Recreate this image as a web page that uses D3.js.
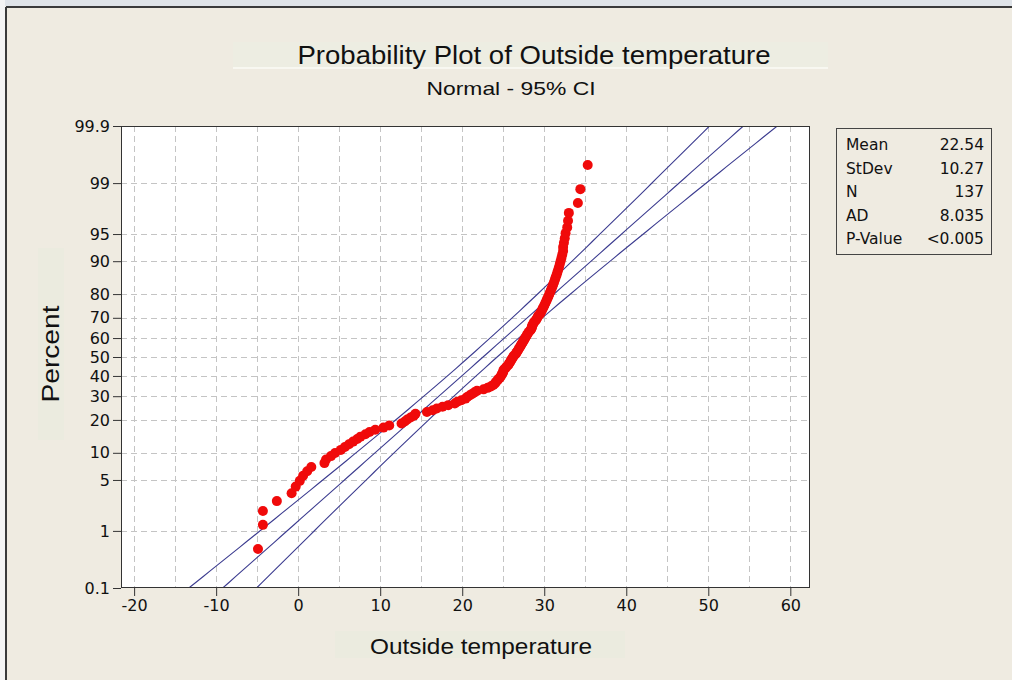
<!DOCTYPE html>
<html>
<head>
<meta charset="utf-8">
<script src="https://cdn.jsdelivr.net/npm/d3@7"></script>
<style>
html,body{margin:0;padding:0;background:#efebe1;}
svg{display:block;}
</style>
</head>
<body>
<svg id="chart" width="1012" height="680"></svg>
<script>
// ---------- data ----------
const temperatures = [
  -4.9, -4.3, -4.3, -2.6, -0.8, -0.3, 0.2, 0.6, 1.1, 1.6,
  3.2, 3.4, 4.0, 4.5, 5.2, 5.7, 6.2, 6.7, 7.2, 7.6,
  8.2, 8.7, 9.4, 10.4, 11.1, 12.6, 13.0, 13.3, 13.7, 14.1,
  14.3, 15.7, 16.4, 16.9, 17.6, 18.3, 19.1, 19.4, 19.9, 20.4,
  20.6, 20.9, 21.2, 21.5, 21.8, 22.6, 23.1, 23.5, 23.8, 24.0,
  24.1, 24.3, 24.4, 24.6, 24.7, 24.8, 24.9, 25.0, 25.0, 25.1,
  25.3, 25.4, 25.6, 25.7, 25.8, 25.9, 26.0, 26.1, 26.2, 26.3,
  26.5, 26.6, 26.7, 26.8, 26.9, 27.0, 27.1, 27.2, 27.3, 27.4,
  27.5, 27.6, 27.7, 27.8, 27.9, 28.0, 28.1, 28.3, 28.4, 28.5,
  28.5, 28.6, 28.7, 28.8, 29.0, 29.1, 29.2, 29.3, 29.5, 29.6,
  29.7, 29.8, 29.9, 30.0, 30.1, 30.2, 30.3, 30.4, 30.5, 30.6,
  30.7, 30.8, 30.9, 31.0, 31.1, 31.2, 31.3, 31.4, 31.5, 31.6,
  31.7, 31.8, 31.9, 32.0, 32.1, 32.2, 32.3, 32.3, 32.4, 32.5,
  32.6, 32.8, 32.9, 33.0, 34.1, 34.4, 35.3
];
const percentTicks = [0.1, 1, 5, 10, 20, 30, 40, 50, 60, 70, 80, 90, 95, 99, 99.9];
const percentTickLabels = ["0.1", "1", "5", "10", "20", "30", "40", "50", "60", "70", "80", "90", "95", "99", "99.9"];
const tempTicks = [-20, -10, 0, 10, 20, 30, 40, 50, 60];
const tempTickLabels = ["-20", "-10", "0", "10", "20", "30", "40", "50", "60"];
const tempGrid = [-20, -15, -10, -5, 0, 5, 10, 15, 20, 25, 30, 35, 40, 45, 50, 55, 60];
const statLabels = ["Mean", "StDev", "N", "AD", "P-Value"];
const statValues = ["22.54", "10.27", "137", "8.035", "<0.005"];
const fitMean = 22.54, fitSd = 10.27, fitN = 137;

// ---------- helpers ----------
function qnorm(p) {
  const a = [-3.969683028665376e+01, 2.209460984245205e+02, -2.759285104469687e+02, 1.383577518672690e+02, -3.066479806614716e+01, 2.506628277459239e+00];
  const b = [-5.447609879822406e+01, 1.615858368580409e+02, -1.556989798598866e+02, 6.680131188771972e+01, -1.328068155288572e+01];
  const c = [-7.784894002430293e-03, -3.223964580411365e-01, -2.400758277161838e+00, -2.549732539343734e+00, 4.374664141464968e+00, 2.938163982698783e+00];
  const d = [7.784695709041462e-03, 3.224671290700398e-01, 2.445134137142996e+00, 3.754408661907416e+00];
  const pl = 0.02425, ph = 1 - pl;
  let q, r;
  if (p < pl) { q = Math.sqrt(-2 * Math.log(p)); return (((((c[0]*q+c[1])*q+c[2])*q+c[3])*q+c[4])*q+c[5]) / ((((d[0]*q+d[1])*q+d[2])*q+d[3])*q+1); }
  if (p > ph) { q = Math.sqrt(-2 * Math.log(1 - p)); return -(((((c[0]*q+c[1])*q+c[2])*q+c[3])*q+c[4])*q+c[5]) / ((((d[0]*q+d[1])*q+d[2])*q+d[3])*q+1); }
  q = p - 0.5; r = q * q;
  return (((((a[0]*r+a[1])*r+a[2])*r+a[3])*r+a[4])*r+a[5])*q / (((((b[0]*r+b[1])*r+b[2])*r+b[3])*r+b[4])*r+1);
}

// ---------- layout ----------
const svg = d3.select("#chart");
const L = 121, R = 810, T = 126, B = 588;
const zMax = qnorm(0.999);

const x = d3.scaleLinear().domain([-21.6, 62.4]).range([L, R]);
const y = d3.scaleLinear().domain([-zMax, zMax]).range([B, T]);

// window frame
svg.append("rect").attr("x", 0).attr("y", 0).attr("width", 1012).attr("height", 680).attr("fill", "#efebe1");
svg.append("rect").attr("x", 0).attr("y", 0).attr("width", 1012).attr("height", 6).attr("fill", "#dfe3e8");
svg.append("rect").attr("x", 0).attr("y", 0).attr("width", 5).attr("height", 680).attr("fill", "#f4f4f4");
svg.append("line").attr("x1", 6).attr("x2", 1012).attr("y1", 7).attr("y2", 7).attr("stroke", "#3a3a3a").attr("stroke-width", 2);
svg.append("line").attr("x1", 6).attr("x2", 6).attr("y1", 7).attr("y2", 680).attr("stroke", "#3a3a3a").attr("stroke-width", 2);

// title
svg.append("rect").attr("x", 233).attr("y", 42).attr("width", 595).attr("height", 26).attr("fill", "#edede2");
svg.append("line").attr("x1", 233).attr("x2", 828).attr("y1", 68).attr("y2", 68).attr("stroke", "#fbfbf6").attr("stroke-width", 1.5);
svg.append("text").attr("x", 534).attr("y", 64).attr("text-anchor", "middle")
  .attr("font-family", "Liberation Sans, Arial, sans-serif").attr("font-size", 26)
  .attr("textLength", 473).attr("lengthAdjust", "spacingAndGlyphs").attr("fill", "#111")
  .text("Probability Plot of Outside temperature");
svg.append("text").attr("x", 511).attr("y", 95).attr("text-anchor", "middle")
  .attr("font-family", "Liberation Sans, Arial, sans-serif").attr("font-size", 19)
  .attr("textLength", 169).attr("lengthAdjust", "spacingAndGlyphs").attr("fill", "#111")
  .text("Normal - 95% CI");

// plot area
svg.append("rect").attr("x", L).attr("y", T).attr("width", R - L).attr("height", B - T).attr("fill", "#ffffff");

// gridlines
const grid = svg.append("g").attr("stroke", "#c4c4c4").attr("stroke-width", 1).attr("stroke-dasharray", "6,4");
grid.selectAll(".vg").data(tempGrid).join("line")
  .attr("x1", d => Math.round(x(d)) + 0.5).attr("x2", d => Math.round(x(d)) + 0.5)
  .attr("y1", T).attr("y2", B);
grid.selectAll(".hg").data(percentTicks.filter(p => p > 0.1 && p < 99.9)).join("line")
  .attr("x1", L).attr("x2", R)
  .attr("y1", d => Math.round(y(qnorm(d / 100))) + 0.5).attr("y2", d => Math.round(y(qnorm(d / 100))) + 0.5);

// clip
svg.append("clipPath").attr("id", "clip").append("rect").attr("x", L).attr("y", T).attr("width", R - L).attr("height", B - T);

// fitted line and CI
const zs = d3.range(0, 81).map(i => -zMax + i * (2 * zMax / 80));
const zc = 1.959964;
const se = z => fitSd * Math.sqrt(1 / fitN + z * z / (2 * fitN));
const lineGen = f => d3.line().x(z => x(f(z))).y(z => y(z))(zs);
const lines = svg.append("g").attr("clip-path", "url(#clip)").attr("fill", "none").attr("stroke", "#3b3b8f").attr("stroke-width", 1.1);
lines.append("path").attr("d", lineGen(z => fitMean + z * fitSd));
lines.append("path").attr("d", lineGen(z => fitMean + z * fitSd - zc * se(z)));
lines.append("path").attr("d", lineGen(z => fitMean + z * fitSd + zc * se(z)));

// points
const n = temperatures.length;
svg.append("g").attr("clip-path", "url(#clip)").selectAll("circle").data(temperatures).join("circle")
  .attr("cx", d => x(d))
  .attr("cy", (d, i) => y(qnorm((i + 1 - 0.3) / (n + 0.4))))
  .attr("r", 5).attr("fill", "#f00a0a");

// frame
svg.append("rect").attr("x", L + 0.5).attr("y", T + 0.5).attr("width", R - L - 1).attr("height", B - T - 1)
  .attr("fill", "none").attr("stroke", "#333").attr("stroke-width", 1);

// axes
const labelMap = new Map(percentTicks.map((p, i) => [qnorm(p / 100), percentTickLabels[i]]));
const yAxis = d3.axisLeft(y).tickValues(percentTicks.map(p => qnorm(p / 100)))
  .tickFormat(z => labelMap.get(z)).tickSize(8).tickPadding(3);
const gy = svg.append("g").attr("transform", `translate(${L},0)`).call(yAxis);
gy.select(".domain").remove();
gy.selectAll("line").attr("stroke", "#333");
gy.selectAll("text").attr("font-family", "DejaVu Sans, Verdana, sans-serif").attr("font-size", 16).attr("fill", "#111");

const xLabelMap = new Map(tempTicks.map((t, i) => [t, tempTickLabels[i]]));
const xAxis = d3.axisBottom(x).tickValues(tempTicks).tickFormat(t => xLabelMap.get(t)).tickSize(8).tickPadding(4);
const gx = svg.append("g").attr("transform", `translate(0,${B})`).call(xAxis);
gx.select(".domain").remove();
gx.selectAll("line").attr("stroke", "#333");
gx.selectAll("text").attr("font-family", "DejaVu Sans, Verdana, sans-serif").attr("font-size", 16).attr("fill", "#111");

// axis titles
svg.append("rect").attr("x", 38).attr("y", 248).attr("width", 26).attr("height", 192).attr("fill", "#ebebdf");
svg.append("text").attr("transform", "translate(59,354) rotate(-90)").attr("text-anchor", "middle")
  .attr("font-family", "Liberation Sans, Arial, sans-serif").attr("font-size", 23)
  .attr("textLength", 97).attr("lengthAdjust", "spacingAndGlyphs").attr("fill", "#111")
  .text("Percent");
svg.append("rect").attr("x", 335).attr("y", 631).attr("width", 290).attr("height", 27).attr("fill", "#ebebdf");
svg.append("text").attr("x", 481).attr("y", 654).attr("text-anchor", "middle")
  .attr("font-family", "Liberation Sans, Arial, sans-serif").attr("font-size", 22)
  .attr("textLength", 222).attr("lengthAdjust", "spacingAndGlyphs").attr("fill", "#111")
  .text("Outside temperature");

// stats box
svg.append("rect").attr("x", 836.5).attr("y", 128.5).attr("width", 155).attr("height", 126)
  .attr("fill", "none").attr("stroke", "#444").attr("stroke-width", 1);
const sg = svg.append("g").attr("font-family", "DejaVu Sans, Verdana, sans-serif").attr("font-size", 15.5).attr("fill", "#111");
sg.selectAll(".sl").data(statLabels).join("text")
  .attr("x", 846).attr("y", (d, i) => 150 + i * 23.6).text(d => d);
sg.selectAll(".sv").data(statValues).join("text")
  .attr("x", 984).attr("y", (d, i) => 150 + i * 23.6).attr("text-anchor", "end").text(d => d);
</script>
</body>
</html>
